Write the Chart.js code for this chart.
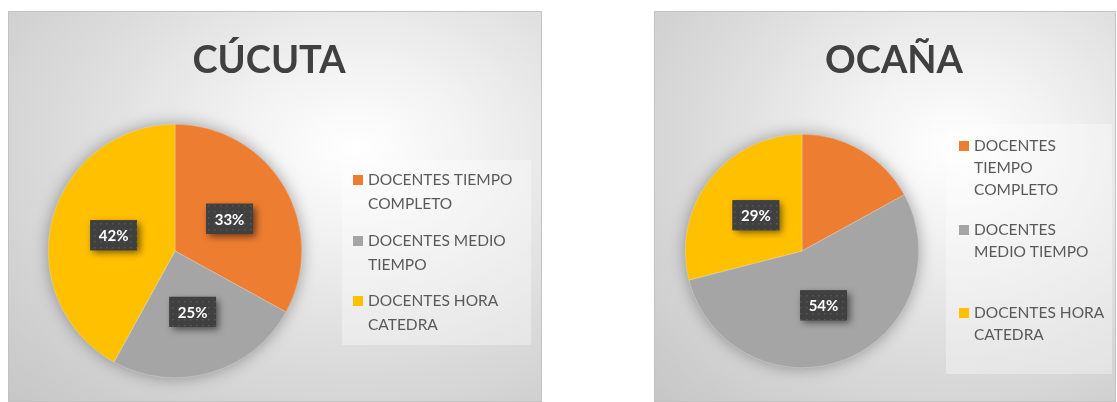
<!DOCTYPE html>
<html>
<head>
<meta charset="utf-8">
<script src="https://cdn.jsdelivr.net/npm/chart.js@4.4.0/dist/chart.umd.min.js"></script>
<style>
body { margin: 0; background: #fff; width: 1117px; height: 402px; overflow: hidden; position: relative; }
.frame {
    position: absolute;
    box-shadow: inset 0 0 0 1px #c2c2c2;
    background: radial-gradient(ellipse at 65% 35%, #ffffff 0%, #f3f3f3 22%, #dcdcdc 58%, #c6c6c6 100%);
}
#f1 { left: 8px; top: 11px; width: 534px; height: 391px; }
#f2 { left: 654px; top: 11px; width: 462px; height: 391px; }
canvas { position: absolute; left: 0; top: 0; }
</style>
</head>
<body>
<div class="frame" id="f1"><canvas id="cucuta" width="534" height="391"></canvas></div>
<div class="frame" id="f2"><canvas id="ocana" width="462" height="391"></canvas></div>
<script>
// data
var cucutaLabels = [['DOCENTES TIEMPO', 'COMPLETO'], ['DOCENTES MEDIO', 'TIEMPO'], ['DOCENTES HORA', 'CATEDRA']]
var ocanaLabels = [['DOCENTES', 'TIEMPO', 'COMPLETO'], ['DOCENTES', 'MEDIO TIEMPO'], ['DOCENTES HORA', 'CATEDRA']]
var cucutaValues = [33, 25, 42]
var ocanaValues = [17, 54, 29]
var cucutaShowLabel = [true, true, true]
var ocanaShowLabel = [false, true, true]
var colors = ['#ED7D31', '#A5A5A5', '#FFC000']

// positions of title / legend for each canvas
var decor = {
    cucuta: {
        title: 'CÚCUTA', titleX: 261, titleY: 62,
        legendBox: [334, 149, 189, 185], legendX: 345, legendY: [169, 230, 290], lineGap: 23.5,
        showLabel: cucutaShowLabel
    },
    ocana: {
        title: 'OCAÑA', titleX: 240, titleY: 62,
        legendBox: [292, 113, 166, 250], legendX: 305, legendY: [135, 219, 302], lineGap: 22,
        showLabel: ocanaShowLabel
    }
}

// dotted fill used behind the percentage labels
var dots = document.createElement('canvas')
dots.width = 6
dots.height = 6
var dctx = dots.getContext('2d')
dctx.fillStyle = '#404040'
dctx.fillRect(0, 0, 6, 6)
dctx.fillStyle = '#575757'
dctx.fillRect(2, 2, 1.5, 1.5)

var pieDecor = {
    id: 'pieDecor',
    beforeDatasetsDraw: function (chart) {
        var arc = chart.getDatasetMeta(0).data[0]
        var ctx = chart.ctx
        ctx.save()
        ctx.shadowColor = 'rgba(0,0,0,0.35)'
        ctx.shadowBlur = 16
        ctx.beginPath()
        ctx.arc(arc.x, arc.y, arc.outerRadius, 0, Math.PI * 2)
        ctx.fillStyle = '#a5a5a5'
        ctx.fill()
        ctx.restore()
    },
    afterDraw: function (chart) {
        var d = decor[chart.canvas.id]
        var ctx = chart.ctx
        var ds = chart.data.datasets[0]
        ctx.save()

        // title
        ctx.fillStyle = '#404040'
        ctx.font = 'bold 38px Lato'
        ctx.textAlign = 'center'
        ctx.textBaseline = 'alphabetic'
        ctx.fillText(d.title, d.titleX, d.titleY)

        // legend
        ctx.fillStyle = 'rgba(255,255,255,0.35)'
        ctx.fillRect(d.legendBox[0], d.legendBox[1], d.legendBox[2], d.legendBox[3])
        ctx.font = '15.5px Lato'
        ctx.textAlign = 'left'
        ctx.textBaseline = 'middle'
        chart.data.labels.forEach(function (lines, i) {
            var y = d.legendY[i]
            ctx.fillStyle = ds.backgroundColor[i]
            ctx.fillRect(d.legendX, y - 5, 10, 10)
            ctx.fillStyle = '#595959'
            lines.forEach(function (line, j) {
                ctx.fillText(line, d.legendX + 15, y + j * d.lineGap)
            })
        })

        // percentage labels
        var total = ds.data.reduce(function (a, b) { return a + b }, 0)
        ctx.font = 'bold 15px Lato'
        ctx.textAlign = 'center'
        chart.getDatasetMeta(0).data.forEach(function (arc, i) {
            if (!d.showLabel[i]) return
            var p = arc.tooltipPosition()
            var text = Math.round(ds.data[i] / total * 100) + '%'
            var w = ctx.measureText(text).width + 17
            var h = 30
            ctx.save()
            ctx.shadowColor = 'rgba(0,0,0,0.55)'
            ctx.shadowBlur = 7
            ctx.shadowOffsetX = 3
            ctx.shadowOffsetY = 3
            ctx.fillStyle = '#404040'
            ctx.fillRect(p.x - w / 2, p.y - h / 2, w, h)
            ctx.restore()
            ctx.fillStyle = ctx.createPattern(dots, 'repeat')
            ctx.fillRect(p.x - w / 2, p.y - h / 2, w, h)
            ctx.fillStyle = '#ffffff'
            ctx.fillText(text, p.x, p.y + 1)
        })
        ctx.restore()
    }
}

function makePie(id, labels, values, pad) {
    new Chart(document.getElementById(id), {
        type: 'pie',
        data: {
            labels: labels,
            datasets: [{
                data: values,
                backgroundColor: colors,
                borderColor: 'rgba(255,255,255,0.5)',
                borderWidth: 0.5
            }]
        },
        options: {
            responsive: false,
            animation: false,
            layout: { padding: pad },
            plugins: {
                legend: { display: false },
                tooltip: { enabled: false }
            }
        },
        plugins: [pieDecor]
    })
}

makePie('cucuta', cucutaLabels, cucutaValues, { left: 40, top: 113, right: 240, bottom: 24 })
makePie('ocana', ocanaLabels, ocanaValues, { left: 31, top: 123, right: 197, bottom: 34 })
</script>
</body>
</html>
